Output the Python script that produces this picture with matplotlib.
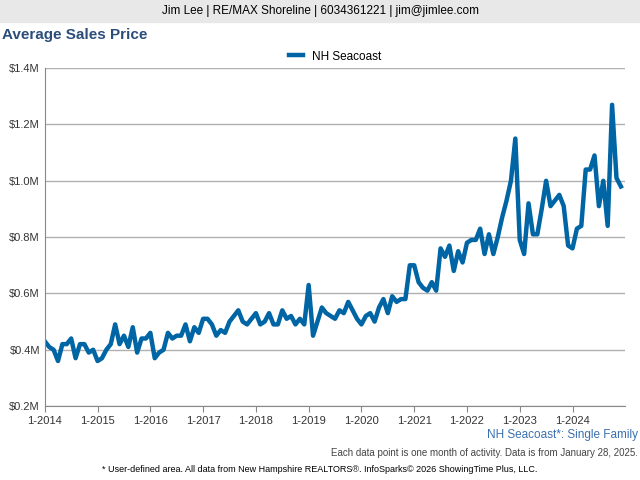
import matplotlib
matplotlib.use("Agg")
import matplotlib.pyplot as plt
import numpy as np

# Monthly average sales price, $M, Jan 2014 .. Dec 2024
y2014 = [0.43, 0.41, 0.40, 0.36, 0.42, 0.42, 0.44, 0.37, 0.42, 0.42, 0.39, 0.40]
y2015 = [0.36, 0.37, 0.40, 0.42, 0.49, 0.42, 0.45, 0.41, 0.48, 0.39, 0.44, 0.44]
y2016 = [0.46, 0.37, 0.39, 0.40, 0.46, 0.44, 0.45, 0.45, 0.49, 0.43, 0.48, 0.46]
y2017 = [0.51, 0.51, 0.49, 0.45, 0.47, 0.46, 0.50, 0.52, 0.54, 0.50, 0.49, 0.51]
y2018 = [0.53, 0.49, 0.50, 0.53, 0.49, 0.49, 0.54, 0.51, 0.52, 0.49, 0.51, 0.49]
y2019 = [0.63, 0.45, 0.50, 0.55, 0.53, 0.52, 0.51, 0.54, 0.53, 0.57, 0.54, 0.51]
y2020 = [0.49, 0.52, 0.53, 0.50, 0.55, 0.58, 0.53, 0.59, 0.57, 0.58, 0.58, 0.70]
y2021 = [0.70, 0.64, 0.62, 0.61, 0.64, 0.61, 0.76, 0.73, 0.77, 0.68, 0.75, 0.71]
y2022 = [0.78, 0.79, 0.79, 0.83, 0.74, 0.81, 0.74, 0.80, 0.87, 0.93, 1.00, 1.15]
y2023 = [0.79, 0.74, 0.92, 0.81, 0.81, 0.90, 1.00, 0.91, 0.93, 0.95, 0.91, 0.77]
y2024 = [0.76, 0.83, 0.84, 1.04, 1.04, 1.09, 0.91, 1.00, 0.84, 1.27, 1.01, 0.98]
prices = y2014 + y2015 + y2016 + y2017 + y2018 + y2019 + y2020 + y2021 + y2022 + y2023 + y2024

year_labels = ["1-%d" % y for y in range(2014, 2025)]
y_ticks = [0.2, 0.4, 0.6, 0.8, 1.0, 1.2, 1.4]

blue = "#0065a4"

fig = plt.figure(figsize=(6.4, 4.8), dpi=100)
fig.patches.append(plt.Rectangle((0, 0.955), 1, 0.045, transform=fig.transFigure,
                                 color="#e8e8e8", zorder=0))
fig.text(0.5, 0.977, "Jim Lee | RE/MAX Shoreline | 6034361221 | jim@jimlee.com",
         ha="center", va="center", fontsize=8.5, family="Liberation Sans")
fig.text(0.003, 0.928, "Average Sales Price", ha="left", va="center", fontsize=11,
         fontweight="bold", color="#2a4d7a", family="Liberation Sans")

ax = fig.add_axes([0.07, 0.154, 0.907, 0.704])
x = np.arange(len(prices))
ax.plot(x, prices, color=blue, linewidth=3.2, label="NH Seacoast", solid_joinstyle="round")
ax.set_xlim(0, 132)
ax.set_ylim(0.2, 1.4)
ax.set_yticks(y_ticks)
ax.set_yticklabels(["$%.1fM" % v for v in y_ticks])
ax.set_xticks(np.arange(0, 132, 12))
ax.set_xticklabels(year_labels)
ax.tick_params(labelsize=8, length=0, colors="#333333")
for lab in ax.get_xticklabels() + ax.get_yticklabels():
    lab.set_family("Liberation Sans")
ax.tick_params(axis="x", length=4, color="#888888")
ax.grid(axis="y", color="#b0b0b0", linewidth=1)
ax.set_axisbelow(True)
for s in ["top", "right"]:
    ax.spines[s].set_visible(False)
ax.spines["left"].set_color("#888888")
ax.spines["bottom"].set_color("#888888")
ax.legend(loc="lower center", bbox_to_anchor=(0.5, 0.985), frameon=False,
          prop={"family": "Liberation Sans", "size": 8.5}, handlelength=1.2)

fig.text(0.997, 0.093, "NH Seacoast*: Single Family", ha="right", va="center",
         fontsize=8.5, color="#3a70b0", family="Liberation Sans")
fig.text(0.997, 0.057, "Each data point is one month of activity. Data is from January 28, 2025.",
         ha="right", va="center", fontsize=7, color="#444444", family="Liberation Sans")
fig.text(0.5, 0.022, "* User-defined area. All data from New Hampshire REALTORS\u00ae. InfoSparks\u00a9 2026 ShowingTime Plus, LLC.",
         ha="center", va="center", fontsize=6.5, family="Liberation Sans")

fig.savefig("out.png", dpi=100)
